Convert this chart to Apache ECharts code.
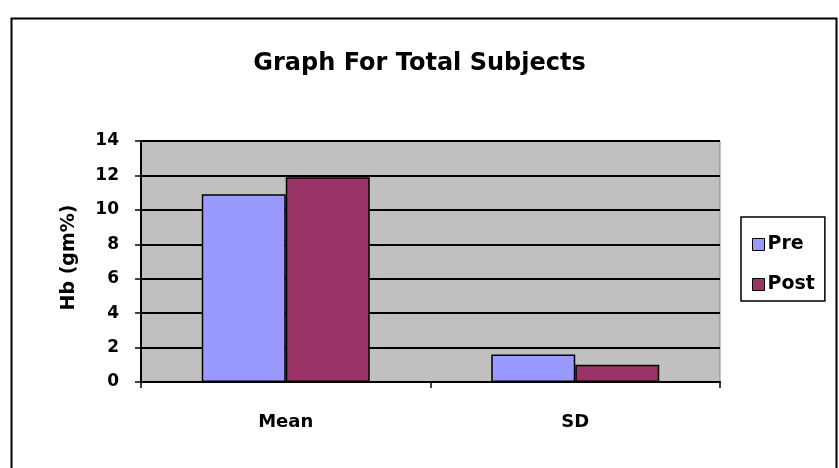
<!DOCTYPE html>
<html><head><meta charset="utf-8">
<script src="https://cdn.jsdelivr.net/npm/echarts@6/dist/echarts.min.js"></script>
<style>html,body{margin:0;padding:0;background:#fff}#c{width:839px;height:468px}</style>
</head><body><div id="c"></div>
<script>
const categories = ['Mean', 'SD'];
const preValues = [10.9, 1.6];
const postValues = [11.9, 1.0];
const seriesNames = ['Pre', 'Post'];
const titleText = 'Graph For Total Subjects';
const yAxisName = 'Hb (gm%)';

const FONT = '"DejaVu Sans", sans-serif';
const chart = echarts.init(document.getElementById('c'));
chart.setOption({
  animation: false,
  backgroundColor: '#fff',
  graphic: [{
    type: 'rect', left: 9, top: 16, shape: {width: 825, height: 470},
    style: {fill: 'none', stroke: '#000', lineWidth: 2}, silent: true
  }],
  title: {
    text: titleText, left: 'center', top: 52, padding: 0,
    textStyle: {fontFamily: FONT, fontWeight: 'bold', fontSize: 24, color: '#000'}
  },
  legend: {
    orient: 'vertical', left: 741, top: 217,
    padding: [18, 10, 7, 11], itemGap: 21,
    itemWidth: 12, itemHeight: 12,
    borderColor: '#000', borderWidth: 1.5,
    itemStyle: {borderColor: '#000', borderWidth: 1},
    textStyle: {fontFamily: FONT, fontWeight: 'bold', fontSize: 19, lineHeight: 19, color: '#000', padding: [0, 0, 0, -2]},
    data: seriesNames.map(n => ({name: n, icon: 'rect'}))
  },
  grid: {
    left: 141, top: 141, width: 579, height: 241,
    show: true, backgroundColor: '#c0c0c0', borderColor: '#8a8a8a', borderWidth: 1
  },
  xAxis: {
    type: 'category', data: categories,
    axisLine: {lineStyle: {color: '#000', width: 2}},
    axisTick: {show: true, length: 6, lineStyle: {color: '#000', width: 1.5}},
    axisLabel: {fontFamily: FONT, fontWeight: 'bold', fontSize: 18, color: '#000', margin: 31}
  },
  yAxis: {
    type: 'value', min: 0, max: 14, interval: 2,
    name: yAxisName, nameLocation: 'middle', nameGap: 62, nameRotate: 90,
    nameTextStyle: {fontFamily: FONT, fontWeight: 'bold', fontSize: 19, color: '#000', padding: [0, 0, 0, 8]},
    axisLine: {show: true, lineStyle: {color: '#000', width: 2}},
    axisTick: {show: true, length: 6, lineStyle: {color: '#000', width: 1.5}},
    axisLabel: {fontFamily: FONT, fontWeight: 'bold', fontSize: 17, color: '#000', margin: 22},
    splitLine: {show: true, lineStyle: {color: '#000', width: 2}}
  },
  series: [
    {name: seriesNames[0], type: 'bar', data: preValues, barWidth: 84, barGap: '0%',
     itemStyle: {color: '#9999ff', borderColor: '#000', borderWidth: 1.5}},
    {name: seriesNames[1], type: 'bar', data: postValues, barWidth: 84, barGap: '0%',
     itemStyle: {color: '#993366', borderColor: '#000', borderWidth: 1.5}}
  ]
});
</script></body></html>
